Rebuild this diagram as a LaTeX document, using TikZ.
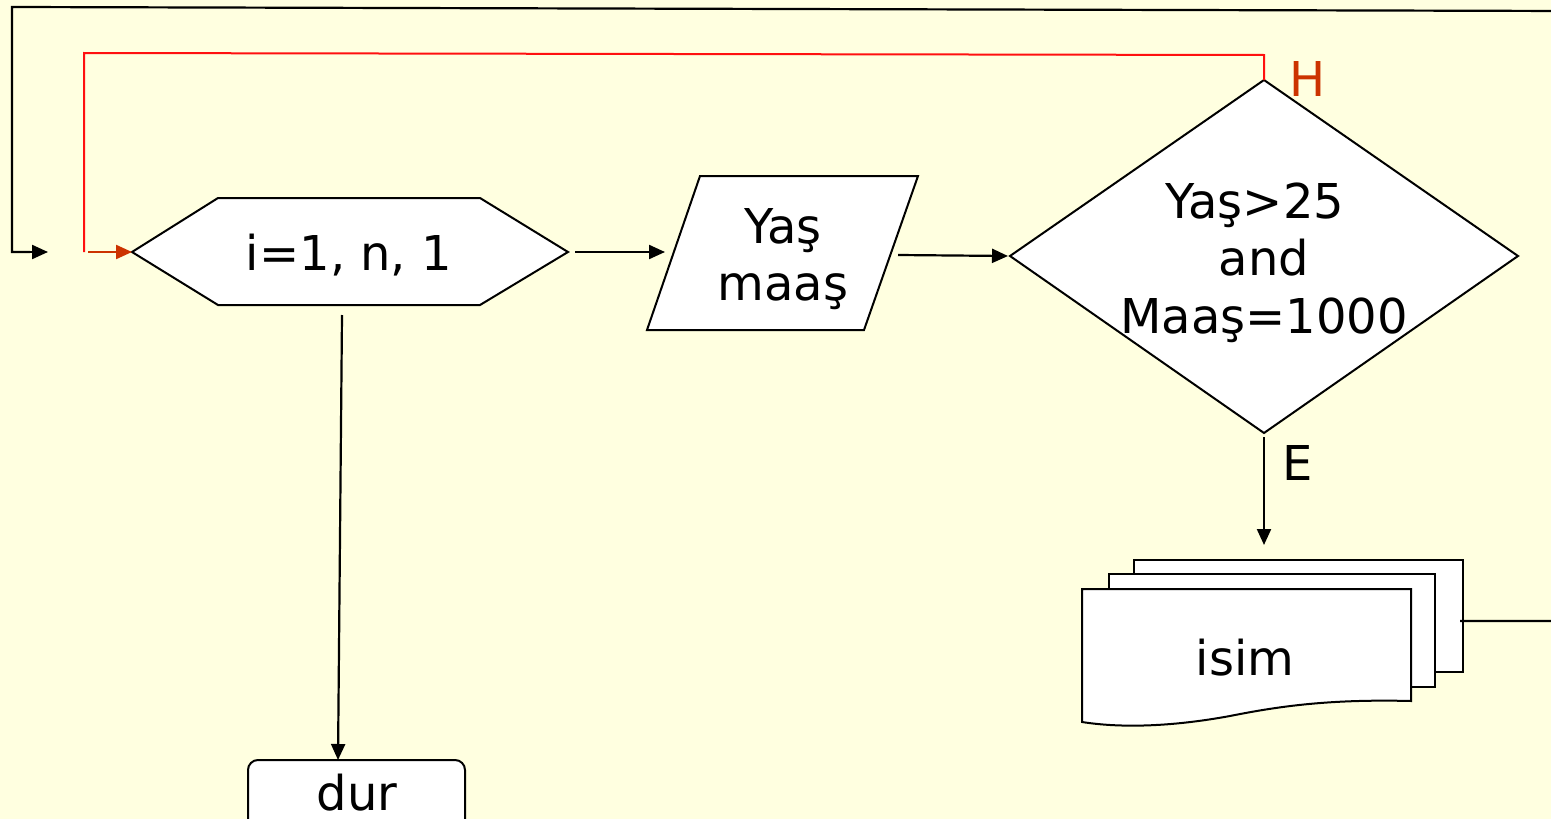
\documentclass[tikz,border=0pt]{standalone}
\usepackage{fontspec}
\setmainfont{DejaVu Sans}
\usetikzlibrary{arrows.meta}
\definecolor{bg}{HTML}{FFFFE0}
\definecolor{hred}{HTML}{CC3300}
\definecolor{lred}{HTML}{FF1010}
\begin{document}
\begin{tikzpicture}[x=1pt,y=-1pt,
  shp/.style={draw=black,fill=white,line width=2pt,line join=miter},
  con/.style={draw=black,line width=2.2pt,-{Triangle[length=16pt,width=14pt]}},
  wire/.style={draw=black,line width=2.2pt},
  txt/.style={font=\fontsize{48}{54}\selectfont,inner sep=0pt,anchor=base}]
\fill[bg] (0,0) rectangle (1551,819);
\useasboundingbox (0,0) rectangle (1551,819);
\clip (0,0) rectangle (1551,819);
% coordinates
\coordinate (hexW) at (132,252);
\coordinate (hexE) at (568,252);
\coordinate (hexS) at (342,315);
\coordinate (parW) at (665,252);
\coordinate (parE) at (898,255);
\coordinate (diaW) at (1008,256);
\coordinate (diaN) at (1264,80);
\coordinate (diaS) at (1264,437);
\coordinate (docN) at (1264,545);
\coordinate (docE) at (1460,621);
\coordinate (durN) at (338,760);
\coordinate (blkEnd) at (48,252);
\coordinate (redStart) at (88,252);
% hexagon
\draw[shp] (132,252) -- (218,198) -- (480,198) -- (568,252) -- (480,305) -- (218,305) -- cycle;
\node[txt] (hex) at (349,270) {i=1, n, 1};
% parallelogram
\draw[shp] (700,176) -- (918,176) -- (864,330) -- (647,330) -- cycle;
\node[txt] (yas) at (783,243) {Yaş};
\node[txt] (maas) at (783,300) {maaş};
% diamond
\draw[shp] (1010,256) -- (1264,80) -- (1518,256) -- (1264,433) -- cycle;
\node[txt] (c1) at (1255,218) {Yaş>25};
\node[txt] (c2) at (1264,275) {and};
\node[txt] (c3) at (1264,333) {Maaş=1000};
% documents
\draw[shp] (1134,560) rectangle (1463,672);
\draw[shp] (1109,574) rectangle (1435,687);
\draw[shp] (1082,589) -- (1411,589) -- (1411,701)
  .. controls (1330,699) and (1280,706) .. (1230,716)
  .. controls (1170,727) and (1120,728) .. (1082,722) -- cycle;
\node[txt] (isim) at (1245,675) {isim};
% dur
\draw[shp,rounded corners=10pt] (248,840) -- (248,760) -- (465,760) -- (465,840);
\node[txt,text depth=0pt] (dur) at (357,810) {dur};
% labels
\node[txt,text=hred] (H) at (1308,96) {H};
\node[txt] (E) at (1298,480) {E};
% connectors
\draw[con] (hexE) ++(7,0) -- (parW);
\draw[con] (parE) -- (diaW);
\draw[con] (diaS) -- (docN);
\draw[con] (hexS) -- (durN);
\draw[wire] (docE) -- (1570,621) -- (1570,11) -- (12,7) -- (12,252) -- (30,252);
\draw[con] (30,252) -- (blkEnd);
\draw[draw=lred,line width=2pt] (diaN) -- (1264,55) -- (84,53) -- (84,252);
\draw[draw=hred,line width=2.2pt,-{Triangle[length=16pt,width=14pt]}] (redStart) -- (hexW);
\end{tikzpicture}
\end{document}
